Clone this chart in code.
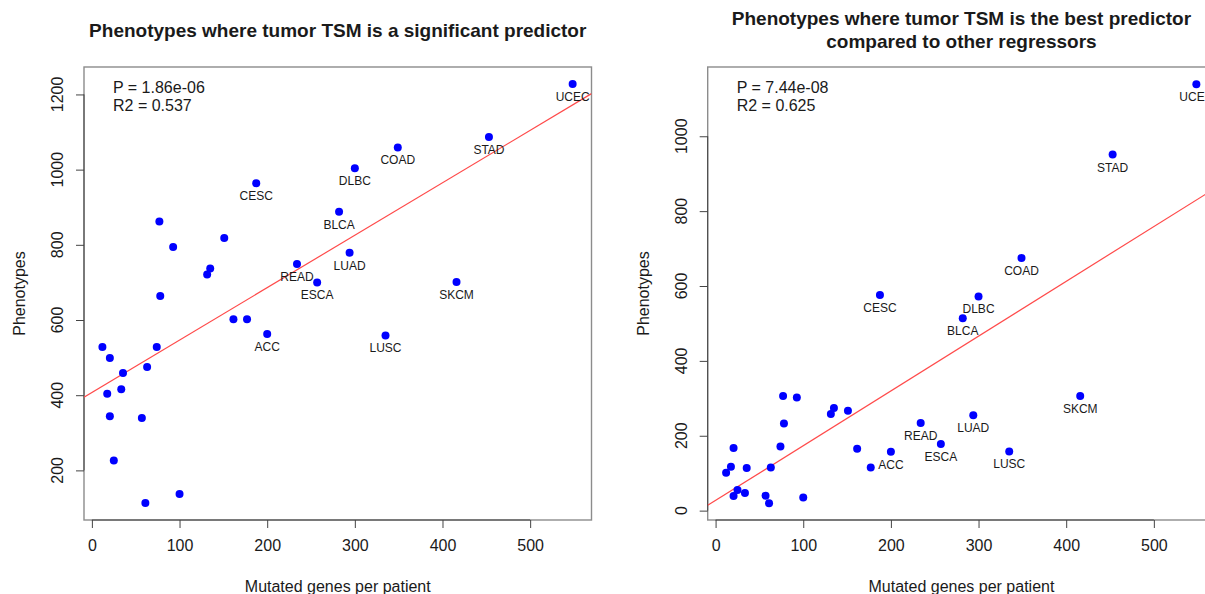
<!DOCTYPE html>
<html>
<head>
<meta charset="utf-8">
<script src="https://cdn.jsdelivr.net/npm/d3@7"></script>
<style>
  body { margin: 0; background: #fff; }
  svg { display: block; font-family: 'Liberation Sans', Arial, Helvetica, sans-serif; }
  text { fill: #1a1a1a; }
</style>
</head>
<body>
<div id="chart"></div>
<script>
// one entry per cancer type, same order in every array ('' = no label drawn)
const cancerTypes = [
  '', '', '', '', '', '', '', '', '', '',
  '', '', '', '', '', '', '', '', '', '',
  'ACC', 'CESC', 'READ', 'ESCA', 'BLCA', 'LUAD', 'DLBC', 'LUSC', 'COAD', 'SKCM', 'STAD', 'UCEC'
]
const mutatedGenes = [
  12, 17.5, 20.5, 20.5, 25, 33.5, 35.5, 57, 61, 63,
  74, 77, 78, 92.7, 100, 131.5, 135, 151, 161.5, 177,
  200, 187.5, 234, 257, 282, 294, 300, 335, 349, 416, 453, 548.5
]
const phenotypesSignificant = [
  528, 404, 499, 344, 226, 416, 459, 339, 113, 475,
  528, 862, 664, 794, 137, 721, 737, 818, 602, 602,
  563, 964, 749, 700, 888, 779, 1004, 559, 1059, 701, 1087, 1228
]
const phenotypesBest = [
  101, 117, 167, 39, 55, 47, 114, 40, 20, 115,
  171, 306, 233, 302, 35, 258, 274, 267, 165, 115,
  157, 576, 234, 178, 514, 255, 572, 158, 675, 306, 951, 1139
]

// regression lines [intercept, slope]
const fitSignificant = [407, 1.395]
const fitBest = [27.3, 1.463]

const xTicks = [0, 100, 200, 300, 400, 500]
const yTicksSignificant = [200, 400, 600, 800, 1000, 1200]
const yTicksBest = [0, 200, 400, 600, 800, 1000]

const width = 1205
const height = 594

const svg = d3
  .select('#chart')
  .append('svg')
  .attr('width', width)
  .attr('height', height)

const panels = [
  {
    title: ['Phenotypes where tumor TSM is a significant predictor'],
    ys: phenotypesSignificant,
    fit: fitSignificant,
    yTicks: yTicksSignificant,
    yDomain: [68, 1273],
    left: 84,
    stats: ['P = 1.86e-06', 'R2 = 0.537']
  },
  {
    title: ['Phenotypes where tumor TSM is the best predictor', 'compared to other regressors'],
    ys: phenotypesBest,
    fit: fitBest,
    yTicks: yTicksBest,
    yDomain: [-25, 1185],
    left: 707.7,
    stats: ['P = 7.44e-08', 'R2 = 0.625']
  }
]

const plotTop = 67
const plotBottom = 520
const plotWidth = 507.5

panels.forEach((p, i) => {
  const xScale = d3
    .scaleLinear()
    .domain([-9, 570])
    .range([p.left, p.left + plotWidth])

  const yScale = d3
    .scaleLinear()
    .domain(p.yDomain)
    .range([plotBottom, plotTop])

  const g = svg.append('g')
  const cx = p.left + plotWidth / 2

  const clipId = 'clip-' + i
  g.append('clipPath')
    .attr('id', clipId)
    .append('rect')
    .attr('x', p.left)
    .attr('y', plotTop)
    .attr('width', plotWidth)
    .attr('height', plotBottom - plotTop)

  // box
  g.append('rect')
    .attr('x', p.left)
    .attr('y', plotTop)
    .attr('width', plotWidth)
    .attr('height', plotBottom - plotTop)
    .attr('fill', 'none')
    .attr('stroke', '#8c8c8c')
    .attr('stroke-width', 1.4)

  // x axis
  const xAxis = d3
    .axisBottom(xScale)
    .tickValues(xTicks)
    .tickSize(8)
    .tickPadding(12)
    .tickSizeOuter(0)
  const xg = g
    .append('g')
    .attr('transform', 'translate(0,' + plotBottom + ')')
    .call(xAxis)
  xg.select('.domain')
    .attr('d', 'M' + xScale(xTicks[0]) + ',0H' + xScale(xTicks[xTicks.length - 1]))
  xg.selectAll('line, .domain').attr('stroke', '#444')
  xg.selectAll('text')
    .attr('font-size', 16)
    .attr('fill', '#1a1a1a')

  // y axis (rotated labels like R)
  const yAxis = d3
    .axisLeft(yScale)
    .tickValues(p.yTicks)
    .tickSize(8)
    .tickFormat('')
    .tickSizeOuter(0)
  const yg = g
    .append('g')
    .attr('transform', 'translate(' + p.left + ',0)')
    .call(yAxis)
  yg.select('.domain')
    .attr('d', 'M0,' + yScale(p.yTicks[0]) + 'V' + yScale(p.yTicks[p.yTicks.length - 1]))
  yg.selectAll('line, .domain').attr('stroke', '#444')

  g.selectAll('.ytick-label')
    .data(p.yTicks)
    .enter()
    .append('text')
    .attr('class', 'ytick-label')
    .attr('transform', d => 'translate(' + (p.left - 21) + ',' + yScale(d) + ') rotate(-90)')
    .attr('text-anchor', 'middle')
    .attr('font-size', 16)
    .text(d => d)

  // axis titles
  g.append('text')
    .attr('x', cx)
    .attr('y', 592)
    .attr('text-anchor', 'middle')
    .attr('font-size', 16)
    .text('Mutated genes per patient')

  g.append('text')
    .attr('transform', 'translate(' + (p.left - 59) + ',' + (plotTop + plotBottom) / 2 + ') rotate(-90)')
    .attr('text-anchor', 'middle')
    .attr('font-size', 16)
    .text('Phenotypes')

  // title
  const titleBase = p.title.length === 1 ? 36.5 : 24.5
  p.title.forEach((t, k) => {
    g.append('text')
      .attr('x', cx)
      .attr('y', titleBase + k * 23.5)
      .attr('text-anchor', 'middle')
      .attr('font-size', 19)
      .attr('font-weight', 'bold')
      .text(t)
  })

  // stats
  p.stats.forEach((t, k) => {
    g.append('text')
      .attr('x', p.left + 29)
      .attr('y', 92.5 + k * 18.2)
      .attr('font-size', 16)
      .text(t)
  })

  // regression line
  const xd = xScale.domain()
  g.append('line')
    .attr('clip-path', 'url(#' + clipId + ')')
    .attr('x1', xScale(xd[0]))
    .attr('y1', yScale(p.fit[0] + p.fit[1] * xd[0]))
    .attr('x2', xScale(xd[1]))
    .attr('y2', yScale(p.fit[0] + p.fit[1] * xd[1]))
    .attr('stroke', '#ff4a4a')
    .attr('stroke-width', 1.2)

  const points = mutatedGenes.map((x, j) => ({ x: x, y: p.ys[j], name: cancerTypes[j] }))

  g.selectAll('.label')
    .data(points.filter(d => d.name !== ''))
    .enter()
    .append('text')
    .attr('class', 'label')
    .attr('x', d => xScale(d.x))
    .attr('y', d => yScale(d.y) + 17)
    .attr('text-anchor', 'middle')
    .attr('font-size', 12)
    .text(d => d.name)

  g.selectAll('circle')
    .data(points)
    .enter()
    .append('circle')
    .attr('cx', d => xScale(d.x))
    .attr('cy', d => yScale(d.y))
    .attr('r', 4)
    .attr('fill', '#0000ff')
})
</script>
</body>
</html>
